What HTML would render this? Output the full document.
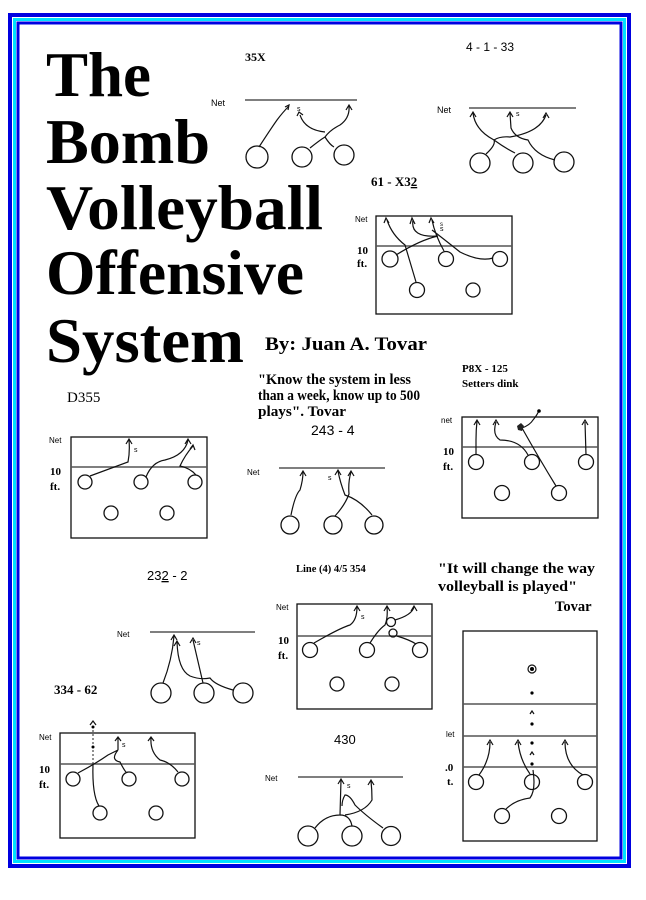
<!DOCTYPE html>
<html><head><meta charset="utf-8"><style>
html,body{margin:0;padding:0;background:#fff;}
svg{display:block;}
text{font-family:"Liberation Serif",serif;fill:#000;}
.s{font-family:"Liberation Sans",sans-serif;}
.c{fill:none;stroke:#111;stroke-width:1.2;}
.p{fill:none;stroke:#222;stroke-width:1;}
.n{stroke:#555;stroke-width:1.6;}
.r{fill:none;stroke:#111;stroke-width:1.3;}
</style></head><body>
<svg width="646" height="900" viewBox="0 0 646 900" xmlns="http://www.w3.org/2000/svg">
<rect x="0" y="0" width="646" height="900" fill="#fff"/>
<!-- border -->
<rect x="10" y="15" width="619" height="851" fill="none" stroke="#0000e0" stroke-width="4"/>
<rect x="14.5" y="19.5" width="610" height="842" fill="none" stroke="#00e0ff" stroke-width="3"/>
<rect x="18" y="23" width="603" height="835" fill="none" stroke="#0000e0" stroke-width="3"/>

<!-- title -->
<g font-weight="bold" font-size="64">
<text x="46" y="96" textLength="105" lengthAdjust="spacingAndGlyphs">The</text>
<text x="46" y="163" textLength="164" lengthAdjust="spacingAndGlyphs">Bomb</text>
<text x="46" y="229" textLength="277" lengthAdjust="spacingAndGlyphs">Volleyball</text>
<text x="46" y="294" textLength="258" lengthAdjust="spacingAndGlyphs">Offensive</text>
<text x="46" y="362" textLength="198" lengthAdjust="spacingAndGlyphs">System</text>
</g>
<text x="265" y="350" font-size="19" font-weight="bold" textLength="162" lengthAdjust="spacingAndGlyphs">By: Juan A. Tovar</text>
<g font-size="14.5" font-weight="bold">
<text x="258" y="384" textLength="153" lengthAdjust="spacingAndGlyphs">"Know the system in less</text>
<text x="258" y="400" textLength="162" lengthAdjust="spacingAndGlyphs">than a week, know up to 500</text>
<text x="258" y="416" textLength="88" lengthAdjust="spacingAndGlyphs">plays". Tovar</text>
</g>
<g font-size="11" font-weight="bold">
<text x="462" y="372">P8X - 125</text>
<text x="462" y="387">Setters dink</text>
</g>
<g font-size="14.5" font-weight="bold">
<text x="438" y="573" textLength="157" lengthAdjust="spacingAndGlyphs">"It will change the way</text>
<text x="438" y="591" textLength="139" lengthAdjust="spacingAndGlyphs">volleyball is played"</text>
<text x="555" y="611">Tovar</text>
</g>

<!-- 35X -->
<text x="245" y="61" font-size="12" font-weight="bold">35X</text>
<text class="s" x="211" y="106" font-size="9">Net</text>
<line class="n" x1="245" y1="100" x2="357" y2="100"/>
<circle class="r" cx="257" cy="157" r="11"/><circle class="r" cx="302" cy="157" r="10"/><circle class="r" cx="344" cy="155" r="10"/>
<path class="c" d="M259 147 Q270 130 277 120 Q283 112 289 106 M285 107 L289 105 L288 110"/>
<path class="c" d="M310 148 Q320 140 325 137 Q330 130 340 125 Q350 118 349 106 M346 110 L349 105 L352 110"/>
<path class="c" d="M325 137 Q330 145 334 147 M325 132 Q305 130 300 115 M297 116 L299 112 L303 115"/>
<text class="s" x="297" y="111" font-size="7">s</text>

<!-- 4-1-33 -->
<text class="s" x="466" y="51" font-size="12">4 - 1 - 33</text>
<text class="s" x="437" y="113" font-size="9">Net</text>
<line class="n" x1="469" y1="108" x2="576" y2="108"/>
<circle class="r" cx="480" cy="163" r="10"/><circle class="r" cx="523" cy="163" r="10"/><circle class="r" cx="564" cy="162" r="10"/>
<path class="c" d="M486 154 Q496 145 494 140 Q475 130 473 113 M470 117 L473 112 L476 117"/>
<path class="c" d="M494 140 Q505 148 515 153 M494 140 Q500 136 510 137 Q540 132 546 115 M543 118 L546 113 L549 118"/>
<path class="c" d="M555 160 Q535 155 528 140 Q515 138 511 128 L510 113 M507 117 L510 112 L513 117"/>
<text class="s" x="516" y="116" font-size="7">s</text>

<!-- 61-X32 -->
<text x="371" y="186" font-size="13" font-weight="bold">61 - X3<tspan text-decoration="underline">2</tspan></text>
<text class="s" x="355" y="222" font-size="8">Net</text>
<text x="357" y="254" font-size="11" font-weight="bold">10</text>
<text x="357" y="267" font-size="11" font-weight="bold">ft.</text>
<rect class="r" x="376" y="216" width="136" height="98"/>
<line class="n" x1="376" y1="246" x2="512" y2="246"/>
<circle class="r" cx="390" cy="259" r="8"/><circle class="r" cx="446" cy="259" r="7.5"/><circle class="r" cx="500" cy="259" r="7.5"/><circle class="r" cx="417" cy="290" r="7.5"/><circle class="r" cx="473" cy="290" r="7"/>
<path class="c" d="M416 282 Q410 262 405 245 Q392 235 387 220 M384 223 L386 218 L389 223"/>
<path class="c" d="M396 255 Q420 240 438 236 Q410 238 413 220 M410 224 L412 218 L415 224"/>
<path class="c" d="M444 251 Q435 235 432 220 M429 223 L431 218 L434 223 M432 230 Q445 240 460 252 Q480 262 493 258"/>
<text class="s" x="440" y="231" font-size="7">s</text><text class="s" x="440" y="226" font-size="6">s</text>

<!-- D355 -->
<text x="67" y="402" font-size="15">D355</text>
<text class="s" x="49" y="443" font-size="8">Net</text>
<text x="50" y="475" font-size="11" font-weight="bold">10</text>
<text x="50" y="490" font-size="11" font-weight="bold">ft.</text>
<rect class="r" x="71" y="437" width="136" height="101"/>
<line class="n" x1="71" y1="467" x2="207" y2="467"/>
<circle class="r" cx="85" cy="482" r="7"/><circle class="r" cx="141" cy="482" r="7"/><circle class="r" cx="195" cy="482" r="7"/><circle class="r" cx="111" cy="513" r="7"/><circle class="r" cx="167" cy="513" r="7"/>
<path class="c" d="M90 476 Q120 465 128 462 Q130 452 129 440 M126 444 L129 439 L132 444"/>
<path class="c" d="M146 477 Q152 462 165 460 Q185 455 188 440 M185 444 L188 439 L191 444"/>
<path class="c" d="M196 475 Q190 468 180 466 Q185 455 193 446 M190 449 L193 445 L195 450"/>
<text class="s" x="134" y="452" font-size="7">s</text>

<!-- 243-4 -->
<text class="s" x="311" y="435" font-size="14">243 - 4</text>
<text class="s" x="247" y="475" font-size="8">Net</text>
<line class="n" x1="279" y1="468" x2="385" y2="468"/>
<circle class="r" cx="290" cy="525" r="9"/><circle class="r" cx="333" cy="525" r="9"/><circle class="r" cx="374" cy="525" r="9"/>
<path class="c" d="M291 515 Q295 495 300 490 Q303 480 303 472 M300 476 L303 471 L306 476"/>
<path class="c" d="M335 516 Q345 505 349 494 Q348 482 351 472 M348 476 L351 471 L354 476"/>
<path class="c" d="M372 515 Q360 500 345 495 Q340 482 338 471 M335 475 L338 470 L341 475"/>
<text class="s" x="328" y="480" font-size="7">s</text>

<!-- P8X -->
<text class="s" x="441" y="423" font-size="8">net</text>
<text x="443" y="455" font-size="11" font-weight="bold">10</text>
<text x="443" y="470" font-size="11" font-weight="bold">ft.</text>
<rect class="r" x="462" y="417" width="136" height="101"/>
<line class="n" x1="462" y1="447" x2="598" y2="447"/>
<circle class="r" cx="476" cy="462" r="7.5"/><circle class="r" cx="532" cy="462" r="7.5"/><circle class="r" cx="586" cy="462" r="7.5"/><circle class="r" cx="502" cy="493" r="7.5"/><circle class="r" cx="559" cy="493" r="7.5"/>
<path class="c" d="M476 455 L476 440 Q476 430 477 421 M474 425 L477 420 L480 425"/>
<path class="c" d="M528 455 Q520 440 500 440 Q492 435 496 422 M493 425 L496 420 L499 425"/>
<path class="c" d="M586 455 L585 422 M582 425 L585 420 L588 425"/>
<path class="c" d="M556 486 Q540 460 522 428"/>
<path class="c" d="M522 428 Q530 425 533 420 Q538 414 539 410"/>
<circle cx="539" cy="411" r="1.8" fill="#000"/>
<path d="M517 426 L521 423 L524 426 L522 431 L518 430 Z" fill="#222"/>

<!-- 232-2 -->
<text class="s" x="147" y="580" font-size="13">23<tspan text-decoration="underline">2</tspan> - 2</text>
<text class="s" x="117" y="637" font-size="8">Net</text>
<line class="n" x1="150" y1="632" x2="255" y2="632"/>
<circle class="r" cx="161" cy="693" r="10"/><circle class="r" cx="204" cy="693" r="10"/><circle class="r" cx="243" cy="693" r="10"/>
<path class="c" d="M163 683 Q172 660 174 636 M171 640 L174 635 L177 640"/>
<path class="c" d="M233 690 Q215 685 210 678 Q200 680 190 676 Q178 670 177 642 M174 646 L177 641 L180 646"/>
<path class="c" d="M203 683 L193 640 M190 643 L193 638 L196 643"/>
<text class="s" x="197" y="645" font-size="7">s</text>
<text x="54" y="694" font-size="13" font-weight="bold">334 - 62</text>

<!-- Line (4) -->
<text x="296" y="572" font-size="10.5" font-weight="bold">Line (4) 4/5 354</text>
<text class="s" x="276" y="610" font-size="8">Net</text>
<text x="278" y="644" font-size="11" font-weight="bold">10</text>
<text x="278" y="659" font-size="11" font-weight="bold">ft.</text>
<rect class="r" x="297" y="604" width="135" height="105"/>
<line class="n" x1="297" y1="636" x2="432" y2="636"/>
<circle class="r" cx="310" cy="650" r="7.5"/><circle class="r" cx="367" cy="650" r="7.5"/><circle class="r" cx="420" cy="650" r="7.5"/><circle class="r" cx="337" cy="684" r="7"/><circle class="r" cx="392" cy="684" r="7"/>
<circle class="r" cx="391" cy="622" r="4.5"/><circle class="r" cx="393" cy="633" r="4"/>
<path class="c" d="M314 643 Q340 628 350 625 Q357 620 357 607 M354 611 L357 606 L360 611"/>
<path class="c" d="M370 643 Q378 630 385 625 Q388 618 387 607 M384 611 L387 606 L390 611"/>
<path class="c" d="M395 620 Q412 615 414 607 M411 611 L414 606 L417 611"/>
<path class="c" d="M397 636 Q410 640 416 644"/>
<text class="s" x="361" y="619" font-size="7">s</text>

<!-- 334-62 court -->
<text class="s" x="39" y="740" font-size="8">Net</text>
<text x="39" y="773" font-size="11" font-weight="bold">10</text>
<text x="39" y="788" font-size="11" font-weight="bold">ft.</text>
<rect class="r" x="60" y="733" width="135" height="105"/>
<line class="n" x1="60" y1="764" x2="195" y2="764"/>
<circle class="r" cx="73" cy="779" r="7"/><circle class="r" cx="129" cy="779" r="7"/><circle class="r" cx="182" cy="779" r="7"/><circle class="r" cx="100" cy="813" r="7"/><circle class="r" cx="156" cy="813" r="7"/>
<line x1="93" y1="726" x2="93" y2="764" stroke="#222" stroke-dasharray="2,2"/>
<circle cx="93" cy="747" r="1.5" fill="#000"/><circle cx="93" cy="727" r="1.5" fill="#000"/>
<path class="c" d="M90 725 L93 721 L96 725"/>
<path class="c" d="M99 806 Q92 795 93 764"/>
<path class="c" d="M78 773 Q95 764 108 755 L118 750 M118 750 Q110 760 120 762 Q124 770 126 772 M118 750 L118 738 M115 741 L118 737 L121 741"/>
<path class="c" d="M178 772 Q170 762 160 760 Q150 752 151 738 M148 741 L151 737 L154 741"/>
<text class="s" x="122" y="747" font-size="7">s</text>

<!-- 430 -->
<text class="s" x="334" y="744" font-size="13">430</text>
<text class="s" x="265" y="781" font-size="8">Net</text>
<line class="n" x1="298" y1="777" x2="403" y2="777"/>
<circle class="r" cx="308" cy="836" r="10"/><circle class="r" cx="352" cy="836" r="10"/><circle class="r" cx="391" cy="836" r="9.5"/>
<path class="c" d="M315 828 Q325 815 340 815 L341 780 M338 784 L341 779 L344 784"/>
<path class="c" d="M352 826 Q350 815 340 815 M383 828 Q365 815 355 805 Q350 795 345 795 Q342 800 342 806"/>
<path class="c" d="M345 815 Q365 812 372 800 Q372 790 371 781 M368 785 L371 780 L374 785"/>
<text class="s" x="347" y="788" font-size="7">s</text>

<!-- Tovar court -->
<rect class="r" x="463" y="631" width="134" height="210"/>
<line class="n" x1="463" y1="704" x2="597" y2="704"/>
<line class="n" x1="463" y1="736" x2="597" y2="736"/>
<line class="n" x1="463" y1="767" x2="597" y2="767"/>
<text class="s" x="446" y="737" font-size="8">let</text>
<text x="445" y="771" font-size="11" font-weight="bold">.0</text>
<text x="447" y="785" font-size="11" font-weight="bold">t.</text>
<circle cx="532" cy="669" r="4" fill="none" stroke="#111" stroke-width="1.2"/><circle cx="532" cy="669" r="2" fill="#000"/>
<circle cx="532" cy="693" r="1.6" fill="#000"/><circle cx="532" cy="724" r="1.6" fill="#000"/><circle cx="532" cy="743" r="1.6" fill="#000"/><circle cx="532" cy="764" r="1.6" fill="#000"/>
<path class="c" d="M530 714 L532 711 L534 714 M530 755 L532 752 L534 755"/>
<circle class="r" cx="476" cy="782" r="7.5"/><circle class="r" cx="532" cy="782" r="7.5"/><circle class="r" cx="585" cy="782" r="7.5"/><circle class="r" cx="502" cy="816" r="7.5"/><circle class="r" cx="559" cy="816" r="7.5"/>
<path class="c" d="M479 775 Q490 760 490 742 M487 745 L490 740 L493 745"/>
<path class="c" d="M530 774 Q520 760 518 742 M515 745 L518 740 L521 745"/>
<path class="c" d="M583 775 Q565 765 565 742 M562 745 L565 740 L568 745"/>
<path class="c" d="M506 809 Q515 800 530 798 Q536 790 533 770"/>
</svg>
</body></html>
